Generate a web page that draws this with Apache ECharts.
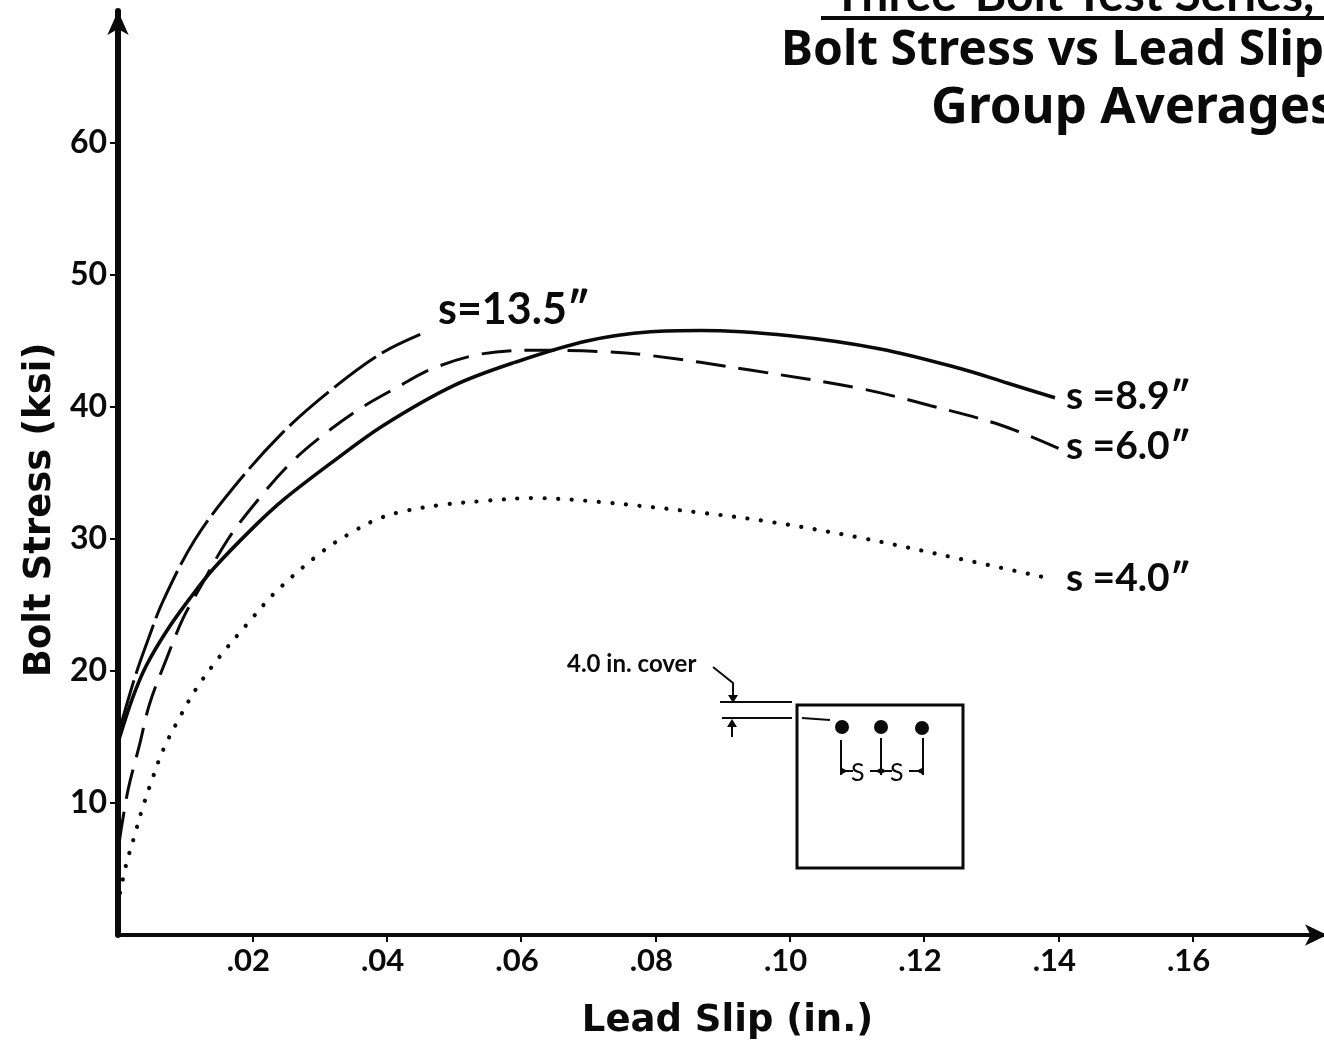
<!DOCTYPE html>
<html>
<head>
<meta charset="utf-8">
<script src="https://cdn.jsdelivr.net/npm/echarts@6/dist/echarts.min.js"></script>
<style>html,body{margin:0;padding:0;background:#fff}#c{width:1324px;height:1045px}</style>
</head>
<body>
<div id="c"></div>
<script>
const xTicks = [0.02,0.04,0.06,0.08,0.10,0.12,0.14,0.16];
const yTicks = [10,20,30,40,50,60];
const s135 = [[0.0002,15.5],[0.0025,19.5],[0.0045,22.4],[0.0067,25.3],[0.0114,29.9],[0.0172,33.9],[0.0244,38],[0.0315,41.2],[0.039,44],[0.045,45.5]];
const s89 = [[0.0002,14.9],[0.0022,18],[0.0042,20.4],[0.0072,23],[0.0107,25.5],[0.0143,27.8],[0.0202,30.9],[0.0247,33],[0.0321,35.9],[0.0395,38.6],[0.0499,41.6],[0.0592,43.4],[0.0698,45],[0.0793,45.7],[0.0867,45.8],[0.1,45.4],[0.1135,44.4],[0.1255,42.9],[0.1325,41.8],[0.1395,40.7]];
const s60 = [[0.0002,7.1],[0.0015,11],[0.0032,14.4],[0.0047,17.5],[0.0072,20.9],[0.0097,24],[0.0122,26.3],[0.0164,30],[0.0209,33],[0.0256,35.7],[0.0301,37.7],[0.0358,39.8],[0.0416,41.5],[0.0468,42.9],[0.0539,44],[0.0614,44.3],[0.0718,44.2],[0.0793,43.9],[0.0941,42.8],[0.1105,41.4],[0.121,40.1],[0.1316,38.6],[0.1403,36.8]];
const s40 = [[0.0003,3.2],[0.0012,5.3],[0.0025,7.6],[0.0037,9.7],[0.0051,11.8],[0.0067,14],[0.0092,16.5],[0.0117,18.7],[0.015,21],[0.0193,23.6],[0.0237,26.1],[0.0303,29],[0.0348,30.5],[0.0386,31.5],[0.0425,32.1],[0.0484,32.6],[0.0549,32.9],[0.0617,33.1],[0.0718,32.8],[0.0867,32],[0.0971,31.3],[0.1105,30.1],[0.1253,28.5],[0.1388,27]];

const F = 'Lato, "Noto Sans", sans-serif';
const T = '"Noto Sans", Lato, sans-serif';
const ink = '#0a0a0a';
function txt(x,y,s,size,extra){
  return {type:'text',x,y,silent:true,z:10,style:Object.assign({text:s,fill:ink,font:'bold '+size+'px '+F,textAlign:'left',textVerticalAlign:'middle'},extra||{})};
}
function pl(points,w){
  return {type:'polyline',silent:true,z:10,shape:{points},style:{stroke:ink,fill:null,lineWidth:w||2}};
}
function dot(cx,cy){ return {type:'circle',silent:true,z:10,shape:{cx,cy,r:7},style:{fill:ink}}; }
function tri(p){ return {type:'polygon',silent:true,z:10,shape:{points:p},style:{fill:ink}}; }

const graphics = [
  txt(833,-4,'Three-Bolt Test Series,',48),
  pl([[821,18],[1324,18]],4),
  txt(781,51,'Bolt Stress vs Lead Slip',47,{font:'bold 48px '+T}),
  txt(931,108,'Group Averages',47,{font:'bold 51px '+T}),
  txt(438,310,'s=13.5\u2033',43),
  txt(1066,396,'s =8.9\u2033',39),
  txt(1066,446,'s =6.0\u2033',39),
  txt(1066,578,'s =4.0\u2033',39),
  txt(567,664,'4.0 in. cover',24),
  {type:'rect',silent:true,z:10,shape:{x:797,y:705,width:166,height:163},style:{stroke:ink,fill:null,lineWidth:3}},
  pl([[720,702],[792,702]]),
  pl([[722,718],[792,718]]),
  pl([[802,718],[830,720]]),
  pl([[713,667],[733,683],[733,696]]),
  tri([[728,695],[738,695],[733,703]]),
  pl([[732,726],[732,737]]),
  tri([[727,727],[737,727],[732,719]]),
  dot(842,727),dot(881,727),dot(922,728),
  pl([[841,740],[841,775]]),
  pl([[881,738],[881,775]]),
  pl([[923,738],[923,775]]),
  pl([[841,771],[853,771]]),
  pl([[870,771],[892,771]]),
  pl([[909,771],[923,771]]),
  tri([[842,768],[842,774],[848,771]]),
  tri([[881,768],[881,774],[875,771]]),
  tri([[881,768],[881,774],[887,771]]),
  tri([[922,768],[922,774],[916,771]]),
  txt(851,773,'S',25,{font:'25px '+F}),
  txt(890,773,'S',25,{font:'25px '+F})
];

const common = {type:'line',showSymbol:false,symbol:'none',smooth:0.35,silent:true,clip:false};
const option = {
  animation:false,
  backgroundColor:'#fff',
  grid:{left:118,top:11,width:1209,height:924,outerBoundsMode:'none'},
  xAxis:{type:'value',min:0,max:0.18,interval:0.02,
    name:'Lead Slip (in.)',nameLocation:'middle',nameGap:68,
    nameTextStyle:{fontFamily:'DejaVu Sans',fontWeight:'bold',fontSize:37,color:ink,padding:[0,0,0,10]},
    axisLine:{show:true,symbol:['none','arrow'],symbolSize:[16,22],lineStyle:{color:ink,width:4}},
    axisTick:{show:true,inside:false,length:7,lineStyle:{color:ink,width:2},customValues:xTicks},
    axisLabel:{show:true,margin:10,color:ink,fontFamily:'Lato',fontWeight:'bold',fontSize:31,padding:[0,8,0,0],
      customValues:xTicks,
      formatter:v=>v.toFixed(2).replace(/^0/,'')},
    splitLine:{show:false}},
  yAxis:{type:'value',min:0,max:70,interval:10,
    name:'Bolt Stress (ksi)',nameLocation:'middle',nameGap:59,
    nameTextStyle:{fontFamily:'DejaVu Sans',fontWeight:'bold',fontSize:37,color:ink,padding:[0,74,0,0]},
    axisLine:{show:true,symbol:['none','arrow'],symbolSize:[16,24],lineStyle:{color:ink,width:6}},
    axisTick:{show:true,length:8,lineStyle:{color:ink,width:2},customValues:yTicks},
    axisLabel:{show:true,margin:11,color:ink,fontFamily:'Lato',fontWeight:'bold',fontSize:32,customValues:yTicks},
    splitLine:{show:false}},
  series:[
    Object.assign({},common,{name:'s=13.5"',data:s135,lineStyle:{color:ink,width:3,type:[52,7]}}),
    Object.assign({},common,{name:'s=8.9"',data:s89,lineStyle:{color:ink,width:3.6}}),
    Object.assign({},common,{name:'s=6.0"',data:s60,lineStyle:{color:ink,width:3,type:[30,13]}}),
    Object.assign({},common,{name:'s=4.0"',data:s40,lineStyle:{color:ink,width:4.2,type:[0.1,13.5],cap:'round'}})
  ],
  graphic:graphics
};
echarts.init(document.getElementById('c'),null,{renderer:'canvas'}).setOption(option);
</script>
</body>
</html>
